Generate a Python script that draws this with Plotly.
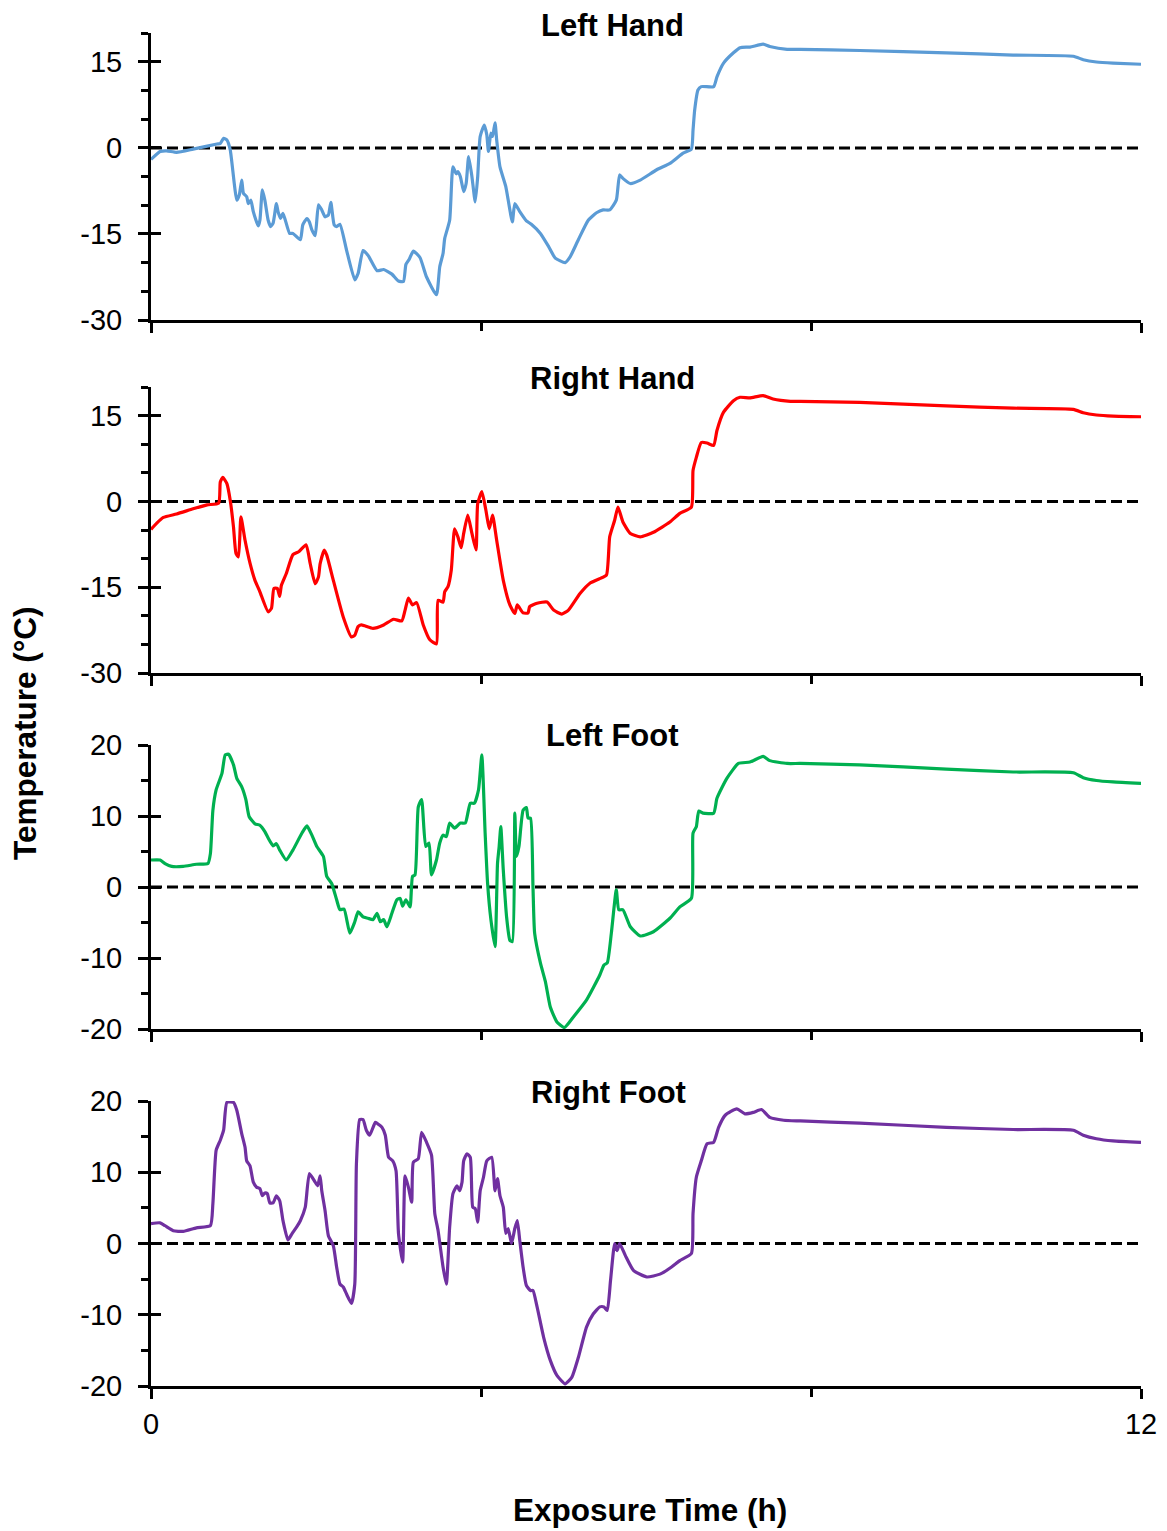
import plotly.graph_objects as go

# ---------------- data (hours, °C) ----------------
time_lh = [0, 0.11, 0.19, 0.31, 0.51, 0.80, 0.84, 0.88, 0.92, 0.96, 1.04, 1.07, 1.10, 1.12, 1.16, 1.18,
           1.21, 1.24, 1.30, 1.32, 1.35, 1.38, 1.42, 1.45, 1.48, 1.52, 1.54, 1.57, 1.60, 1.68, 1.72, 1.81,
           1.84, 1.89, 1.92, 1.95, 1.99, 2.03, 2.07, 2.11, 2.15, 2.18, 2.22, 2.25, 2.29, 2.37, 2.47, 2.51,
           2.57, 2.63, 2.74, 2.82, 2.92, 3.00, 3.06, 3.09, 3.13, 3.18, 3.26, 3.34, 3.46, 3.50, 3.54, 3.56,
           3.62, 3.66, 3.70, 3.72, 3.75, 3.79, 3.82, 3.85, 3.89, 3.93, 3.96, 3.99, 4.04, 4.07, 4.09, 4.12,
           4.14, 4.17, 4.19, 4.23, 4.30, 4.38, 4.41, 4.47, 4.55, 4.61, 4.72, 4.82, 4.90, 5.02, 5.08, 5.18,
           5.30, 5.40, 5.48, 5.56, 5.64, 5.68, 5.72, 5.81, 5.93, 6.13, 6.29, 6.45, 6.55, 6.57, 6.59, 6.63,
           6.67, 6.82, 6.86, 6.94, 7.06, 7.14, 7.26, 7.42, 7.50, 7.71, 7.87, 8.59, 9.64, 10.45, 11.18,
           11.30, 11.46, 11.66, 12.0]
temp_lh = [-2.0, -0.6, -0.5, -0.75, -0.2, 0.7, 0.8, 1.7, 1.4, -0.3, -9.1, -8.2, -5.6, -7.9, -8.5, -9.7,
           -9.1, -11.1, -13.6, -12.6, -7.3, -9.1, -12.6, -13.7, -13.1, -9.7, -11.1, -12.3, -11.4, -14.9, -14.9, -16.0,
           -13.4, -12.3, -12.9, -14.3, -15.3, -9.9, -10.8, -12.0, -11.7, -9.5, -13.4, -13.7, -13.3, -17.8, -23.0, -21.9,
           -17.9, -18.7, -21.4, -21.2, -22.0, -23.2, -23.3, -20.3, -19.4, -18.0, -19.1, -22.5, -25.6, -20.7, -18.4, -15.8,
           -12.6, -3.3, -4.5, -4.1, -5.0, -7.6, -6.2, -1.5, -5.0, -9.4, -5.0, 2.0, 4.0, 2.3, -0.6, 2.6,
           2.0, 4.4, 1.4, -3.3, -6.7, -12.9, -9.7, -11.1, -12.7, -13.3, -14.9, -17.2, -19.2, -20.0, -19.0, -16.0,
           -12.6, -11.3, -10.8, -10.8, -9.1, -4.7, -5.3, -6.2, -5.6, -3.8, -2.7, -0.9, -0.2, 3.1, 6.6, 10.1,
           10.7, 10.7, 12.4, 14.8, 16.6, 17.5, 17.6, 18.1, 17.7, 17.2, 17.2, 17.0, 16.6, 16.2, 16.0,
           15.4, 15.0, 14.8, 14.6]

time_rh = [0, 0.07, 0.15, 0.31, 0.51, 0.68, 0.82, 0.84, 0.87, 0.92, 0.96, 1.00, 1.03, 1.06, 1.09, 1.14,
           1.20, 1.26, 1.32, 1.42, 1.46, 1.49, 1.53, 1.56, 1.58, 1.64, 1.72, 1.79, 1.88, 1.93, 1.99, 2.03,
           2.05, 2.10, 2.13, 2.21, 2.33, 2.43, 2.47, 2.51, 2.55, 2.69, 2.82, 2.94, 3.04, 3.08, 3.12, 3.17,
           3.22, 3.30, 3.38, 3.46, 3.48, 3.54, 3.56, 3.60, 3.64, 3.68, 3.72, 3.76, 3.79, 3.84, 3.89, 3.94,
           3.96, 4.01, 4.06, 4.10, 4.14, 4.19, 4.27, 4.35, 4.41, 4.44, 4.51, 4.57, 4.59, 4.68, 4.80, 4.88,
           4.98, 5.06, 5.20, 5.32, 5.44, 5.52, 5.56, 5.62, 5.66, 5.72, 5.81, 5.93, 6.09, 6.29, 6.41, 6.55,
           6.57, 6.61, 6.67, 6.74, 6.82, 6.86, 6.94, 7.06, 7.14, 7.26, 7.42, 7.54, 7.75, 7.87, 8.59, 9.64,
           10.45, 11.18, 11.30, 11.46, 11.66, 12.0]
temp_rh = [-4.9, -3.8, -2.8, -2.2, -1.3, -0.6, -0.3, 3.4, 4.2, 3.1, 0.2, -4.5, -9.1, -9.7, -2.7, -6.8,
           -10.8, -13.8, -15.8, -19.3, -18.7, -15.2, -15.2, -16.6, -14.7, -12.6, -9.3, -8.8, -7.6, -10.9, -14.4, -13.2,
           -10.9, -8.5, -9.4, -13.8, -20.2, -23.7, -23.4, -21.9, -21.6, -22.2, -21.6, -20.6, -20.9, -19.0, -16.9, -18.1,
           -17.7, -21.6, -24.2, -24.9, -17.3, -17.6, -15.8, -14.9, -12.0, -4.8, -6.2, -8.1, -5.6, -2.4, -5.6, -8.5,
           -0.4, 1.7, -1.6, -4.8, -2.4, -6.8, -13.8, -18.1, -19.6, -18.1, -19.5, -19.5, -18.4, -17.8, -17.6, -19.0,
           -19.7, -19.0, -16.1, -14.3, -13.5, -12.9, -6.2, -3.3, -1.0, -3.6, -5.6, -6.2, -5.4, -3.6, -2.1, -1.0,
           5.4, 7.7, 10.3, 10.2, 9.8, 12.4, 15.6, 17.6, 18.2, 18.1, 18.5, 17.9, 17.5, 17.5, 17.3, 16.7,
           16.3, 16.1, 15.5, 15.1, 14.9, 14.8]

time_lf = [0, 0.11, 0.17, 0.25, 0.39, 0.55, 0.69, 0.72, 0.75, 0.79, 0.86, 0.90, 0.94, 1.00, 1.04, 1.10,
           1.15, 1.19, 1.26, 1.32, 1.38, 1.42, 1.48, 1.52, 1.56, 1.64, 1.72, 1.83, 1.89, 1.95, 2.01, 2.09,
           2.13, 2.19, 2.25, 2.29, 2.34, 2.41, 2.47, 2.51, 2.57, 2.63, 2.69, 2.74, 2.78, 2.82, 2.86, 2.92,
           2.98, 3.02, 3.05, 3.09, 3.14, 3.17, 3.20, 3.24, 3.28, 3.33, 3.37, 3.40, 3.46, 3.50, 3.54, 3.58,
           3.62, 3.68, 3.75, 3.81, 3.87, 3.92, 3.97, 4.01, 4.05, 4.08, 4.12, 4.17, 4.20, 4.22, 4.24, 4.27,
           4.31, 4.35, 4.38, 4.41, 4.43, 4.46, 4.51, 4.55, 4.57, 4.60, 4.63, 4.65, 4.72, 4.78, 4.84, 4.92,
           5.01, 5.12, 5.28, 5.44, 5.49, 5.53, 5.58, 5.64, 5.67, 5.72, 5.81, 5.93, 6.09, 6.29, 6.41, 6.55,
           6.57, 6.61, 6.64, 6.69, 6.82, 6.86, 6.98, 7.12, 7.26, 7.42, 7.50, 7.71, 7.87, 8.59, 9.64, 10.45,
           11.18, 11.30, 11.46, 11.66, 12.0]
temp_lf = [3.8, 3.8, 3.3, 2.9, 2.9, 3.2, 3.3, 4.7, 10.8, 13.7, 16.0, 18.6, 18.7, 17.2, 15.3, 14.1,
           12.3, 9.9, 8.9, 8.7, 7.8, 6.9, 5.8, 6.1, 5.2, 3.8, 5.2, 7.6, 8.6, 7.3, 5.7, 4.3,
           1.5, 0.5, -1.8, -3.2, -3.1, -6.5, -4.9, -3.5, -4.2, -4.4, -4.6, -3.7, -4.9, -4.6, -5.6, -3.7,
           -1.8, -1.6, -2.7, -1.8, -2.8, 1.5, 1.7, 11.3, 12.3, 5.7, 6.2, 1.7, 3.8, 6.2, 7.3, 7.1,
           9.0, 8.3, 9.0, 9.0, 11.8, 11.8, 13.7, 18.6, 7.6, 0.5, -4.6, -8.4, 3.3, 5.7, 8.5, 2.4,
           -4.2, -7.5, -7.7, 10.4, 4.3, 5.7, 10.8, 11.2, 9.7, 9.7, 0.0, -6.5, -10.7, -13.3, -16.9, -19.0,
           -19.8, -18.3, -15.9, -12.4, -11.0, -10.7, -6.5, -0.4, -3.2, -3.2, -5.6, -6.9, -6.3, -4.4, -2.8, -1.6,
           7.6, 8.5, 10.7, 10.4, 10.4, 12.5, 15.3, 17.4, 17.6, 18.4, 17.8, 17.4, 17.4, 17.2, 16.6, 16.2,
           16.1, 15.4, 15.0, 14.8, 14.6]

time_rf = [0, 0.11, 0.17, 0.27, 0.39, 0.55, 0.72, 0.75, 0.79, 0.84, 0.88, 0.92, 1.00, 1.04, 1.10, 1.14,
           1.16, 1.20, 1.24, 1.28, 1.32, 1.35, 1.38, 1.41, 1.44, 1.48, 1.52, 1.56, 1.60, 1.66, 1.71, 1.77,
           1.81, 1.87, 1.92, 1.99, 2.02, 2.05, 2.07, 2.11, 2.15, 2.21, 2.25, 2.29, 2.33, 2.37, 2.43, 2.47,
           2.49, 2.53, 2.57, 2.61, 2.65, 2.72, 2.76, 2.80, 2.84, 2.88, 2.93, 2.97, 3.00, 3.05, 3.08, 3.12,
           3.16, 3.18, 3.24, 3.28, 3.34, 3.40, 3.44, 3.48, 3.54, 3.58, 3.62, 3.66, 3.71, 3.74, 3.77, 3.79,
           3.83, 3.87, 3.90, 3.93, 3.96, 3.99, 4.03, 4.07, 4.13, 4.17, 4.20, 4.23, 4.27, 4.30, 4.33, 4.37,
           4.41, 4.44, 4.47, 4.51, 4.55, 4.60, 4.63, 4.68, 4.76, 4.84, 4.92, 5.02, 5.10, 5.18, 5.28, 5.36,
           5.44, 5.49, 5.53, 5.57, 5.62, 5.65, 5.68, 5.75, 5.85, 6.01, 6.17, 6.31, 6.41, 6.55, 6.57, 6.61,
           6.67, 6.74, 6.82, 6.88, 6.96, 7.10, 7.20, 7.30, 7.40, 7.50, 7.67, 7.87, 8.59, 9.64, 10.45, 11.18,
           11.30, 11.46, 11.66, 12.0]
temp_rf = [2.8, 2.9, 2.5, 1.8, 1.7, 2.2, 2.5, 5.6, 13.1, 14.5, 15.9, 19.8, 19.8, 18.7, 15.4, 13.5,
           11.6, 10.9, 8.6, 7.9, 7.7, 6.7, 7.1, 7.0, 5.7, 5.7, 6.7, 6.0, 3.2, 0.5, 1.4, 2.4,
           3.2, 5.1, 9.8, 8.6, 8.1, 9.5, 7.4, 4.6, 1.1, -0.3, -3.3, -5.7, -6.1, -7.1, -8.4, -5.7,
           11.2, 17.4, 17.4, 15.9, 15.2, 17.0, 16.7, 16.3, 15.2, 12.1, 11.6, 10.2, 1.4, -2.6, 9.5, 7.9,
           5.8, 11.4, 11.9, 15.6, 14.2, 12.4, 4.2, 1.8, -3.3, -5.7, 2.3, 7.0, 8.1, 7.4, 8.6, 11.6,
           12.6, 12.1, 5.1, 4.9, 3.0, 7.4, 9.3, 11.6, 12.1, 7.4, 9.1, 6.7, 5.1, 1.4, 2.1, 0.0,
           2.1, 3.2, 0.4, -3.3, -5.9, -6.6, -6.6, -8.9, -13.2, -16.4, -18.5, -19.7, -18.8, -16.0, -11.7, -9.9,
           -8.9, -8.9, -9.4, -5.2, 0.0, -1.0, 0.0, -1.7, -3.8, -4.7, -4.3, -3.3, -2.4, -1.4, 4.2, 9.3,
           11.6, 14.0, 14.2, 16.3, 18.0, 18.9, 18.2, 18.4, 18.8, 17.7, 17.3, 17.2, 16.9, 16.3, 16.0, 15.9,
           15.2, 14.7, 14.4, 14.2]

panel_titles = ["Left Hand", "Right Hand", "Left Foot", "Right Foot"]
x_ticks = [0, 12]
hand_ticks = [-30, -15, 0, 15]
foot_ticks = [-20, -10, 0, 10, 20]
zero_x = [0, 12]
zero_y = [0, 0]

# ---------------- layout geometry ----------------
PAGE_W, PAGE_H = 1167, 1531
OFF = 8  # default page body margin
W, H = PAGE_W - OFF, PAGE_H - OFF
FONT = "Liberation Sans, Arial, sans-serif"


def px_x(px):
    return (px - OFF) / W


def px_y(py):
    return 1 - (py - OFF) / H


x_dom = [px_x(151), px_x(1141)]
px_dom = [(33.3, 320), (387, 673), (745, 1029), (1101, 1386)]
y_doms = [[px_y(b), px_y(t)] for t, b in px_dom]

series = [
    (time_lh, temp_lh, "#5B9BD5", [-30, 20], hand_ticks),
    (time_rh, temp_rh, "#FF0000", [-30, 20], hand_ticks),
    (time_lf, temp_lf, "#00B050", [-20, 20], foot_ticks),
    (time_rf, temp_rf, "#7030A0", [-20, 20], foot_ticks),
]

fig = go.Figure()
layout = {}
for i, (tx, ty, col, yr, yt) in enumerate(series):
    n = i + 1
    ov = n + 4
    xs = "" if n == 1 else str(n)
    fig.add_trace(go.Scatter(x=zero_x, y=zero_y, mode="lines", xaxis=f"x{xs}", yaxis=f"y{xs}",
                             line=dict(color="black", width=3, dash="11px,5px"),
                             showlegend=False, hoverinfo="skip"))
    fig.add_trace(go.Scatter(x=tx, y=ty, mode="lines", xaxis=f"x{xs}", yaxis=f"y{xs}",
                             line=dict(color=col, width=3.2, shape="spline", smoothing=0.5),
                             showlegend=False, name=panel_titles[i]))
    fig.add_trace(go.Scatter(x=[None], y=[None], mode="lines", xaxis=f"x{ov}", yaxis=f"y{ov}",
                             showlegend=False, hoverinfo="skip"))
    layout[f"xaxis{xs}"] = dict(
        domain=x_dom, anchor=f"y{xs}", range=[0, 12], showline=True, linecolor="black", linewidth=3,
        ticks="outside", ticklen=10, tickwidth=3, tickcolor="black",
        tickmode="array", tickvals=x_ticks, ticktext=[str(v) for v in x_ticks],
        showticklabels=(n == 4), ticklabelstandoff=0, automargin=False,
        tickfont=dict(family=FONT, size=29, color="black"),
        minor=dict(tick0=0, dtick=4, ticks="outside", ticklen=8, tickwidth=3, tickcolor="black"),
        showgrid=(n == 4), gridcolor="#d9d9d9", gridwidth=1.5, zeroline=False, fixedrange=True)
    layout[f"yaxis{xs}"] = dict(
        domain=y_doms[i], anchor=f"x{xs}", range=yr, showline=True, linecolor="black", linewidth=3,
        ticks="outside", ticklen=10, tickwidth=3, tickcolor="black",
        tickmode="array", tickvals=yt, ticktext=[str(v) for v in yt], ticklabelstandoff=10,
        automargin=False, tickfont=dict(family=FONT, size=29, color="black"),
        minor=dict(tick0=0, dtick=5, ticks="outside", ticklen=7, tickwidth=3, tickcolor="black"),
        showgrid=False, zeroline=False, fixedrange=True)
    layout[f"xaxis{ov}"] = dict(
        domain=x_dom, overlaying=f"x{xs}", anchor=f"y{ov}", range=[0, 12], showline=False,
        ticks="inside", ticklen=10, tickwidth=3, tickcolor="black", tickmode="array", automargin=False,
        tickvals=x_ticks, showticklabels=False, showgrid=False, zeroline=False, fixedrange=True)
    layout[f"yaxis{ov}"] = dict(
        domain=y_doms[i], overlaying=f"y{xs}", anchor=f"x{ov}", range=yr, showline=False,
        ticks="inside", ticklen=10, tickwidth=3, tickcolor="black", tickmode="array", automargin=False,
        tickvals=yt, showticklabels=False, showgrid=False, zeroline=False, fixedrange=True)

title_px = [(612, 25), (612, 378), (612, 735), (608, 1092)]
annotations = []
for (tx_, ty_), t in zip(title_px, panel_titles):
    annotations.append(dict(text=f"<b>{t}</b>", x=px_x(tx_), y=px_y(ty_), xref="paper", yref="paper",
                            xanchor="center", yanchor="middle", showarrow=False,
                            font=dict(family=FONT, size=31, color="black")))
annotations.append(dict(text="<b>Exposure Time (h)</b>", x=px_x(650), y=px_y(1510), xref="paper", yref="paper",
                        xanchor="center", yanchor="middle", showarrow=False,
                        font=dict(family=FONT, size=31.5, color="black")))
annotations.append(dict(text="<b>Temperature (°C)</b>", x=px_x(25), y=px_y(733), xref="paper", yref="paper",
                        xanchor="center", yanchor="middle", showarrow=False, textangle=-90,
                        font=dict(family=FONT, size=31.5, color="black")))

fig.update_layout(width=W, height=H, margin=dict(l=0, r=0, t=0, b=0, autoexpand=False),
                  paper_bgcolor="white", plot_bgcolor="white", template="none",
                  font=dict(family=FONT, color="black"),
                  annotations=annotations, showlegend=False, **layout)

fig.write_html("out.html")
